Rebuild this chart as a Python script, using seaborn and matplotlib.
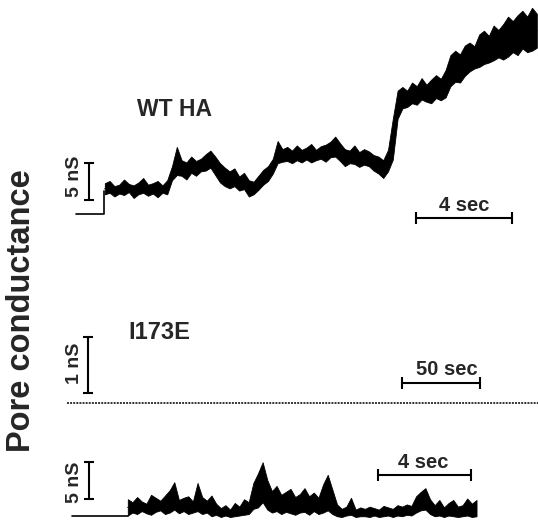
import numpy as np
import pandas as pd
import matplotlib
matplotlib.use("Agg")
import matplotlib.pyplot as plt
import seaborn as sns

# WT HA trace: baseline + step, then noise envelope (nS) every 0.2 s from t = 1.2 s
wt_base_t = [0.0, 1.15, 1.15]
wt_base_g = [0.1, 0.1, 3.3]
wt_t0 = 1.2
wt_hi = [4.3, 4.6, 3.9, 4.1, 4.8, 4.2, 4.0, 4.4, 5.0, 4.1, 4.3, 4.6, 4.0, 4.7,
         6.6, 9.2, 7.4, 7.1, 7.9, 7.3, 7.6, 8.2, 8.7, 7.9, 7.0, 6.4, 5.9, 6.3,
         5.2, 5.7, 4.7, 4.5, 5.3, 6.1, 6.6, 7.6, 10.0, 8.9, 9.2, 8.7, 9.4, 8.8,
         9.1, 9.6, 8.8, 9.3, 9.5, 9.9, 10.6, 9.7, 8.9, 8.7, 9.4, 8.5, 8.9, 8.6,
         8.1, 7.9, 7.4, 8.8, 13.0, 16.8, 17.3, 16.8, 17.9, 17.4, 18.5, 17.6, 18.3, 18.9,
         18.4, 19.6, 21.6, 22.2, 21.7, 22.9, 23.3, 22.8, 24.4, 24.9, 24.2, 25.6, 25.0, 25.8,
         26.8, 26.2, 27.0, 27.6, 26.8, 28.0, 27.2]
wt_lo = [2.8, 3.0, 2.5, 2.9, 2.7, 3.1, 2.3, 2.8, 3.0, 2.6, 2.9, 2.4, 3.0, 2.8,
         4.7, 5.4, 5.3, 4.8, 5.7, 5.3, 5.9, 6.0, 6.4, 5.4, 4.4, 3.9, 3.6, 3.9,
         3.3, 3.5, 2.5, 2.8, 3.4, 4.1, 4.6, 5.6, 7.0, 7.2, 7.3, 7.0, 7.4, 7.1,
         7.5, 7.1, 7.4, 7.6, 7.2, 7.8, 7.9, 7.3, 6.6, 7.0, 6.9, 6.5, 6.8, 6.6,
         6.0, 5.6, 5.0, 5.9, 7.5, 13.0, 14.4, 14.6, 15.1, 14.9, 15.6, 15.3, 15.1, 15.8,
         15.5, 15.9, 17.4, 18.0, 17.9, 18.8, 19.4, 19.8, 20.0, 20.4, 20.6, 20.9, 21.3, 21.0,
         21.4, 22.0, 21.6, 22.5, 22.0, 22.2, 22.6]

# I173E, slow sweep: flat trace (nS) over ~300 s
slow_t = [0.0, 303.0]
slow_g = [0.0, 0.0]

# I173E, fast sweep: baseline + envelope every 0.2 s from t = 2.4 s
fast_base_t = [0.0, 2.4]
fast_base_g = [0.1, 0.1]
fast_t0 = 2.4
fast_hi = [2.4, 2.0, 2.7, 2.1, 1.8, 3.0, 2.6, 2.2, 2.9, 3.6, 4.7, 2.3, 2.6, 2.8, 2.1,
           4.6, 2.7, 2.2, 2.9, 1.8, 1.2, 1.6, 1.0, 1.9, 1.4, 2.4, 2.0, 4.6, 5.9, 7.4,
           5.0, 3.5, 4.2, 3.0, 3.4, 3.8, 2.7, 3.1, 3.9, 2.8, 3.3, 2.6, 4.4, 5.7, 3.7,
           1.7, 1.1, 1.4, 2.6, 1.0, 1.3, 1.1, 1.4, 1.2, 1.0, 1.5, 1.3, 1.1, 1.6, 1.4,
           1.7, 1.5, 2.8, 3.4, 3.9, 2.4, 1.6, 2.3, 1.3, 1.9, 2.3, 1.4, 1.6, 2.5, 1.8, 2.3]
fast_lo = [0.2, 0.6, 0.4, 0.8, 0.5, 0.3, 0.7, 0.9, 0.4, 0.6, 1.0, 0.5, 0.8, 0.4, 0.6,
           0.8, 0.4, 0.6, 0.1, 0.3, 0.0, 0.2, 0.0, 0.1, 0.2, 0.3, 0.4, 1.1, 1.3, 2.0,
           1.0, 0.6, 0.8, 0.4, 0.7, 0.5, 0.3, 0.6, 0.7, 0.3, 0.8, 0.4, 0.6, 0.9, 0.4,
           0.1, 0.0, 0.2, 0.3, 0.0, 0.1, 0.1, 0.0, 0.2, 0.0, 0.1, 0.2, 0.0, 0.2, 0.1,
           0.3, 0.2, 0.6, 0.9, 1.0, 0.4, 0.1, 0.2, 0.0, 0.2, 0.1, 0.0, 0.1, 0.2, 0.0, 0.1]


def envelope_frame(t0, hi, lo):
    t = t0 + 0.2 * np.arange(len(hi))
    return pd.DataFrame({"t": np.concatenate([t, t]), "g": np.concatenate([hi, lo])})


def draw_trace(ax, base_t, base_g, t0, hi, lo):
    sns.lineplot(x=base_t, y=base_g, ax=ax, color="black", lw=1.2,
                 sort=False, estimator=None)
    df = envelope_frame(t0, hi, lo)
    sns.lineplot(data=df, x="t", y="g", ax=ax, color="black", lw=0.8,
                 errorbar=lambda v: (v.min(), v.max()),
                 err_kws={"alpha": 1, "linewidth": 0.6, "edgecolor": "black"})


sns.set_theme(style="white")
plt.rcParams["font.family"] = ["Liberation Sans", "DejaVu Sans"]
plt.rcParams["font.weight"] = "bold"

W, H = 538, 521
fig = plt.figure(figsize=(W / 100, H / 100), dpi=100)

ax1 = fig.add_axes([60 / W, (H - 225) / H, 480 / W, 225 / H])
ax2 = fig.add_axes([60 / W, (H - 420) / H, 480 / W, 120 / H])
ax3 = fig.add_axes([60 / W, 0, 480 / W, 101 / H])

# top panel: WT HA
draw_trace(ax1, wt_base_t, wt_base_g, wt_t0, wt_hi, wt_lo)
ax1.set_xlim(-0.667, 19.333)
ax1.set_ylim(-1.35, 29.05)
ax1.errorbar(0.55, 4.55, yerr=2.5, color="black", lw=1.5, capsize=3.5, capthick=1.5)
ax1.errorbar(16.17, -0.4, xerr=2.0, color="black", lw=1.5, capsize=4, capthick=1.5)
ax1.text(2.54, 14.2, "WT HA", fontsize=16.5, fontweight="bold", ha="left", va="center")
ax1.text(16.17, 1.35, "4 sec", fontsize=14.5, fontweight="bold", ha="center", va="center")
ax1.text(-0.08, 5.27, "5 nS", fontsize=14, fontweight="bold", rotation=90,
         ha="center", va="center")

# middle panel: I173E slow sweep
sns.lineplot(x=slow_t, y=slow_g, ax=ax2, color="#333333", lw=1.4,
             linestyle=(0, (1, 0.6)))
ax2.set_xlim(-4.48, 302.7)
ax2.set_ylim(-0.304, 1.839)
ax2.errorbar(13.4, 0.68, yerr=0.5, color="black", lw=1.5, capsize=3.5, capthick=1.5)
ax2.errorbar(239.4, 0.36, xerr=25, color="black", lw=1.5, capsize=4, capthick=1.5)
ax2.text(39.0, 1.25, "I173E", fontsize=17, fontweight="bold", ha="left", va="center")
ax2.text(243.2, 0.59, "50 sec", fontsize=14.5, fontweight="bold", ha="center", va="center")
ax2.text(4.5, 0.71, "1 nS", fontsize=14, fontweight="bold", rotation=90,
         ha="center", va="center")

# bottom panel: I173E fast sweep
draw_trace(ax3, fast_base_t, fast_base_g, fast_t0, fast_hi, fast_lo)
ax3.set_xlim(-0.516, 20.13)
ax3.set_ylim(-0.54, 13.11)
ax3.errorbar(0.73, 4.9, yerr=2.5, color="black", lw=1.5, capsize=3.5, capthick=1.5)
ax3.errorbar(15.16, 5.68, xerr=2.0, color="black", lw=1.5, capsize=4, capthick=1.5)
ax3.text(15.1, 7.3, "4 sec", fontsize=14.5, fontweight="bold", ha="center", va="center")
ax3.text(0.09, 4.73, "5 nS", fontsize=14, fontweight="bold", rotation=90,
         ha="center", va="center")

for ax in (ax1, ax2, ax3):
    ax.set_axis_off()

fig.text(22 / W, (H - 311) / H, "Pore conductance", fontsize=23.5, fontweight="bold",
         rotation=90, ha="center", va="center")

fig.savefig("out.png", dpi=100)
